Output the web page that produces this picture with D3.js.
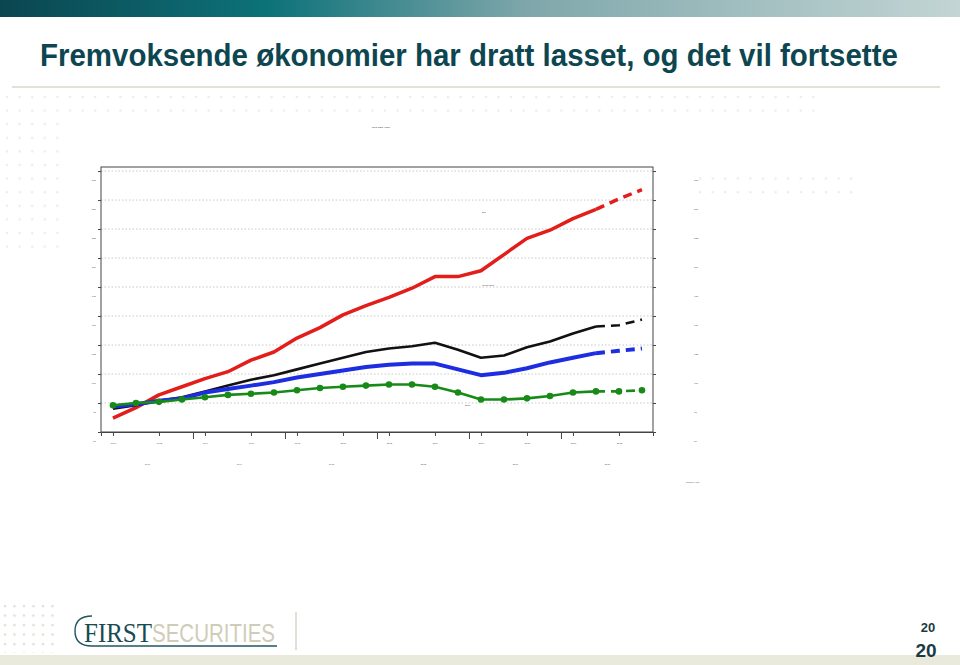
<!DOCTYPE html>
<html>
<head>
<meta charset="utf-8">
<script src="https://cdn.jsdelivr.net/npm/d3@7"></script>
<style>
  body { margin: 0; background: #fff; }
  svg { display: block; }
</style>
</head>
<body>
<div id="chart"></div>
<script>
var width = 960;
var height = 665;

// data (index values)
var years = [1990, 1991, 1992, 1993, 1994, 1995, 1996, 1997, 1998, 1999, 2000, 2001,
             2002, 2003, 2004, 2005, 2006, 2007, 2008, 2009, 2010, 2011, 2012, 2013];
var forecastFrom = 21; // index where the dashed part begins

var emerging = [62, 71, 82, 89, 96, 102, 112, 119, 131, 140, 151, 159,
                166, 174, 184, 184, 189, 203, 217, 224, 234, 242, 251, 259];
var world    = [70, 73, 77, 80, 85, 90, 95, 99, 104, 109, 114, 119,
                122, 124, 127, 121, 114, 116, 123, 128, 135, 141, 142, 147];
var advanced = [72, 74, 77, 79, 84, 87, 90, 93, 97, 100, 103, 106,
                108, 109, 109, 104, 99, 101, 105, 110, 114, 118, 120, 122];
var euro     = [73, 75, 76, 78, 80, 82, 83, 84, 86, 88, 89, 90,
                91, 91, 89, 84, 78, 78, 79, 81, 84, 85, 85, 86];

var yTicks = [50, 75, 100, 125, 150, 175, 200, 225, 250, 275];
var xLabelYears = [1990, 1992, 1994, 1996, 1998, 2000, 2002, 2004, 2006, 2008, 2010, 2012];
var groupLabels = ["1990", "1994", "1998", "2002", "2006", "2010"];

var svg = d3.select("#chart").append("svg")
    .attr("width", width)
    .attr("height", height)
    .style("font-family", "Liberation Sans, Arial, sans-serif");

// header band
var defs = svg.append("defs");
var grad = defs.append("linearGradient").attr("id", "band");
grad.append("stop").attr("offset", "0%").attr("stop-color", "#0b4650");
grad.append("stop").attr("offset", "28%").attr("stop-color", "#0d7279");
grad.append("stop").attr("offset", "55%").attr("stop-color", "#7fa7ab");
grad.append("stop").attr("offset", "100%").attr("stop-color", "#c3d5d4");
svg.append("rect").attr("x", 0).attr("y", 0).attr("width", width).attr("height", 17)
    .attr("fill", "url(#band)");

// faint dot pattern
var pat = defs.append("pattern").attr("id", "dots").attr("patternUnits", "userSpaceOnUse")
    .attr("width", 12.6).attr("height", 13.6).attr("x", 4).attr("y", 94);
pat.append("circle").attr("cx", 3).attr("cy", 3).attr("r", 1.3).attr("fill", "#ececec");
svg.append("rect").attr("x", 0).attr("y", 94).attr("width", 820).attr("height", 26).attr("fill", "url(#dots)");
svg.append("rect").attr("x", 0).attr("y", 120).attr("width", 64).attr("height", 135).attr("fill", "url(#dots)");
svg.append("rect").attr("x", 696).attr("y", 176).attr("width", 160).attr("height", 28).attr("fill", "url(#dots)");
var pat2 = defs.append("pattern").attr("id", "dots2").attr("patternUnits", "userSpaceOnUse")
    .attr("width", 9.5).attr("height", 9.5).attr("x", 2).attr("y", 603);
pat2.append("circle").attr("cx", 3).attr("cy", 3).attr("r", 1.2).attr("fill", "#dcdcd0");
svg.append("rect").attr("x", 0).attr("y", 603).attr("width", 60).attr("height", 50).attr("fill", "url(#dots2)");

// title: condensed look made by scaling a normal bold face
var titleG = svg.append("g");
var title = titleG.append("text")
    .attr("x", 0).attr("y", 0)
    .style("font-size", "26px").style("font-weight", "bold")
    .style("fill", "#0d4650")
    .text("Fremvoksende økonomier har dratt lasset, og det vil fortsette");
var tw = title.node().getComputedTextLength();
titleG.attr("transform", "translate(40,66) scale(" + (858 / tw) + ",1.22)");

svg.append("line").attr("x1", 12).attr("x2", 940).attr("y1", 87).attr("y2", 87)
    .attr("stroke", "#d9d9cc").attr("stroke-width", 1.5);

// chart box
var plotLeft = 101, plotRight = 653, plotTop = 167, plotBottom = 432;

var x = d3.scaleLinear().domain([-0.52, years.length - 0.52]).range([plotLeft, plotRight]);
var y = d3.scaleLinear().domain([50, 278.5]).range([plotBottom, plotTop]);

var g = svg.append("g");

// tiny chart caption
g.append("text").attr("x", 372).attr("y", 128).style("font-size", "2.5px").style("fill", "#333")
    .text("Real GDP, index");

// dotted gridlines
g.selectAll(".grid").data(yTicks.filter(function(d) { return d > 50; }))
  .enter().append("line")
    .attr("x1", plotLeft).attr("x2", plotRight)
    .attr("y1", function(d) { return y(d); }).attr("y2", function(d) { return y(d); })
    .attr("stroke", "#c8c8c8").attr("stroke-width", 1).attr("stroke-dasharray", "1.5,2");

// frame
g.append("rect").attr("x", plotLeft).attr("y", plotTop)
    .attr("width", plotRight - plotLeft).attr("height", plotBottom - plotTop)
    .attr("fill", "none").attr("stroke", "#444").attr("stroke-width", 1);

// left axis
var yAxisL = d3.axisLeft(y).tickValues(yTicks).tickSize(3).tickPadding(2);
var ga = g.append("g").attr("transform", "translate(" + plotLeft + ",0)").call(yAxisL);
ga.select(".domain").remove();
ga.selectAll("text").style("font-size", "2.5px").attr("dy", 9).style("fill", "#555");
ga.selectAll("line").attr("stroke", "#444");

// right axis
var yAxisR = d3.axisRight(y).tickValues(yTicks).tickSize(3).tickPadding(38);
var gr = g.append("g").attr("transform", "translate(" + plotRight + ",0)").call(yAxisR);
gr.select(".domain").remove();
gr.selectAll("text").style("font-size", "2.5px").attr("dy", 9).style("fill", "#555");
gr.selectAll("line").attr("stroke", "#444");

// bottom axis: year ticks
var xAxis = d3.axisBottom(x)
    .tickValues(xLabelYears.map(function(yr) { return years.indexOf(yr); }))
    .tickFormat(function(i) { return years[i]; })
    .tickSize(4).tickPadding(6);
var gx = g.append("g").attr("transform", "translate(0," + plotBottom + ")").call(xAxis);
gx.select(".domain").attr("stroke", "#444");
gx.selectAll("text").style("font-size", "2.5px").style("fill", "#555");
gx.selectAll("line").attr("stroke", "#444");

// group separator ticks and labels
var sepIdx = [3.5, 7.5, 11.5, 15.5, 19.5];
g.selectAll(".sep").data(sepIdx).enter().append("line")
    .attr("x1", function(d) { return x(d); }).attr("x2", function(d) { return x(d); })
    .attr("y1", plotBottom).attr("y2", plotBottom + 7)
    .attr("stroke", "#444").attr("stroke-width", 1);
g.selectAll(".grp").data(groupLabels).enter().append("text")
    .attr("x", function(d, i) { return x(1.5 + 4 * i); })
    .attr("y", plotBottom + 33)
    .attr("text-anchor", "middle")
    .style("font-size", "2.5px").style("fill", "#555")
    .text(function(d) { return d; });
g.append("text").attr("x", 686).attr("y", 483).style("font-size", "2.5px").style("fill", "#555").text("Source: IMF");

// in-chart labels
g.append("text").attr("x", 482).attr("y", 213).style("font-size", "2.5px").style("fill", "#444").text("EM");
g.append("text").attr("x", 482).attr("y", 286).style("font-size", "2.5px").style("fill", "#444").text("World total");
g.append("text").attr("x", 465).attr("y", 406).style("font-size", "2.5px").style("fill", "#444").text("Euro");

var series = [
  { name: "emerging", values: emerging, color: "#e21d1a", width: 3.5 },
  { name: "world", values: world, color: "#111111", width: 2.6 },
  { name: "advanced", values: advanced, color: "#1d2de0", width: 4 },
  { name: "euro", values: euro, color: "#178a17", width: 2.6, dots: true }
];

var line = d3.line()
    .x(function(d) { return x(d.i); })
    .y(function(d) { return y(d.v); });

series.forEach(function(s) {
  var pts = s.values.map(function(v, i) { return { i: i, v: v }; });
  g.append("path").datum(pts.slice(0, forecastFrom + 1))
    .attr("d", line).attr("fill", "none")
    .attr("stroke", s.color).attr("stroke-width", s.width)
    .attr("stroke-linejoin", "round");
  g.append("path").datum(pts.slice(forecastFrom))
    .attr("d", line).attr("fill", "none")
    .attr("stroke", s.color).attr("stroke-width", s.width)
    .attr("stroke-dasharray", "9,6");
  if (s.dots) {
    g.selectAll(".dot-" + s.name).data(pts).enter().append("circle")
      .attr("cx", function(d) { return x(d.i); })
      .attr("cy", function(d) { return y(d.v); })
      .attr("r", 3.3).attr("fill", s.color);
  }
});

// footer
svg.append("rect").attr("x", 0).attr("y", 655).attr("width", width).attr("height", 10).attr("fill", "#e9e9dc");
svg.append("line").attr("x1", 296).attr("x2", 296).attr("y1", 612).attr("y2", 650)
    .attr("stroke", "#d6d6cc").attr("stroke-width", 1.5);
var logo = svg.append("g");
logo.append("path")
    .attr("d", "M 92 616 Q 75 616 75 631 Q 75 646 92 646 L 277 646")
    .attr("fill", "none").attr("stroke", "#1f5560").attr("stroke-width", 1.4);
logo.append("text").attr("x", 84).attr("y", 642)
    .attr("textLength", 68).attr("lengthAdjust", "spacingAndGlyphs")
    .style("font-family", "Liberation Serif, serif").style("font-size", "27px")
    .style("fill", "#174b52").text("FIRST");
logo.append("text").attr("x", 152).attr("y", 642)
    .attr("textLength", 123).attr("lengthAdjust", "spacingAndGlyphs")
    .style("font-family", "Liberation Sans, sans-serif").style("font-size", "25px")
    .style("fill", "#cfcdb8").text("SECURITIES");

svg.append("text").attr("x", 928).attr("y", 632).attr("text-anchor", "middle")
    .style("font-size", "13px").style("font-weight", "bold").style("fill", "#1c3a44").text("20");
svg.append("text").attr("x", 926).attr("y", 657).attr("text-anchor", "middle")
    .style("font-size", "19px").style("font-weight", "bold").style("fill", "#1c3a44").text("20");
</script>
</body>
</html>
